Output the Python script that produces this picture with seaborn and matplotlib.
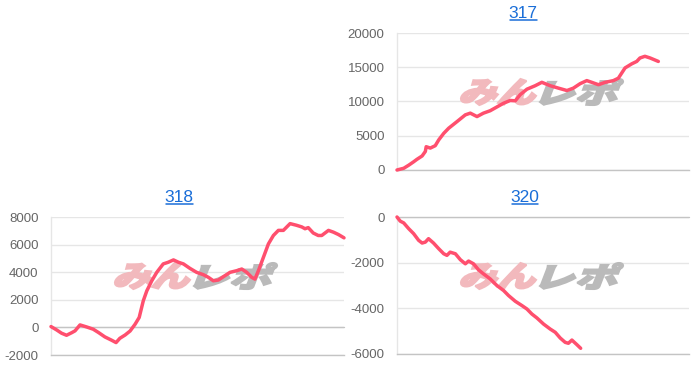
import matplotlib
matplotlib.use("Agg")
import numpy as np
import pandas as pd
import seaborn as sns
import matplotlib.pyplot as plt
from matplotlib.textpath import TextPath
from matplotlib.font_manager import FontProperties
from matplotlib.patches import PathPatch
from matplotlib.transforms import Affine2D, IdentityTransform
from matplotlib.lines import Line2D

# ---------------- data (x = position along the run, % of axis width) ----------------
titles = ["317", "318", "320"]

x317 = [0, 2.3, 4.0, 5.7, 6.8, 8.6, 9.7, 10.0, 11.4, 13.1, 14.3, 16.0, 17.7, 20.5, 23.4,
        25.1, 27.4, 29.6, 31.9, 34.2, 36.5, 38.8, 40.5, 42.2, 44.5, 47.3, 49.6, 52.5, 55.3,
        58.2, 60.4, 62.7, 65.0, 66.7, 69.0, 71.3, 74.1, 75.8, 78.1, 80.4, 82.1, 83.2, 84.9,
        86.7, 89.5]
y317 = [0, 250, 700, 1200, 1550, 2050, 2700, 3400, 3200, 3550, 4400, 5350, 6100, 7050, 8050,
        8300, 7800, 8300, 8650, 9200, 9750, 10150, 10100, 11000, 11800, 12300, 12800, 12300,
        11950, 11600, 11950, 12600, 13050, 12800, 12450, 12800, 13050, 13400, 14900, 15500,
        15850, 16350, 16600, 16350, 15850]

x318 = [0, 1.9, 3.6, 5.3, 7.1, 8.2, 9.9, 12.2, 14.4, 16.2, 18.4, 20.7, 22.2, 23.5, 25.3, 27.0,
        28.7, 30.1, 31.5, 32.7, 34.4, 36.1, 38.3, 40.0, 41.8, 43.5, 45.2, 47.4, 49.7, 52.0,
        53.7, 55.4, 57.1, 58.8, 61.1, 63.4, 65.1, 66.8, 68.5, 69.6, 70.8, 72.5, 74.2, 75.9,
        77.6, 79.3, 81.6, 83.8, 85.6, 86.7, 87.8, 89.5, 91.2, 92.4, 94.7, 96.4, 98.1, 100]
y318 = [60, -180, -420, -570, -380, -250, 180, 30, -130, -370, -690, -930, -1100, -790, -550,
        -260, 230, 720, 1930, 2650, 3380, 3990, 4600, 4720, 4890, 4720, 4600, 4280, 3990, 3820,
        3630, 3380, 3430, 3670, 3990, 4110, 4230, 3990, 3630, 3500, 4110, 5080, 6050, 6660,
        7030, 7030, 7520, 7400, 7280, 7150, 7230, 6840, 6660, 6660, 7030, 6900, 6730, 6490]

x320 = [0, 1.1, 2.3, 4.0, 5.7, 7.4, 8.6, 9.7, 10.8, 12.5, 14.3, 16.0, 17.1, 18.2, 20.0, 21.7,
        23.4, 24.5, 26.2, 27.9, 29.6, 31.9, 34.2, 36.5, 38.2, 40.5, 42.8, 44.5, 46.2, 47.9,
        50.2, 52.5, 54.2, 55.9, 57.6, 58.7, 59.9, 61.6, 62.9]
y320 = [0, -180, -260, -510, -730, -1020, -1140, -1100, -950, -1140, -1390, -1610, -1680,
        -1540, -1610, -1870, -2050, -1930, -2050, -2310, -2490, -2710, -3000, -3220, -3440,
        -3690, -3880, -4030, -4250, -4420, -4690, -4910, -5050, -5300, -5490, -5530, -5390,
        -5590, -5750]

yticks317 = [0, 5000, 10000, 15000, 20000]
yticks318 = [-2000, 0, 2000, 4000, 6000, 8000]
yticks320 = [-6000, -4000, -2000, 0]

watermark_parts = ["みん", "レポ"]

# ---------------- style ----------------
sns.set_theme(style="white")
plt.rcParams["font.family"] = ["Liberation Sans", "DejaVu Sans"]

LINE = "#ff4f6e"
BLUE = "#1a6ed8"
GRID = "#e6e6e6"
AXIS = "#c4c4c4"
TICK = "#666666"
PINK = "#f2b9bd"
GRAY = "#bababa"

W, H = 700, 368
fig = plt.figure(figsize=(W / 100, H / 100), dpi=100)
fig.patch.set_facecolor("white")


def px_axes(l, t, r, b):
    return fig.add_axes([l / W, 1 - b / H, (r - l) / W, (b - t) / H])


def add_watermark(ax):
    bb = ax.get_position()
    left = bb.x0 * W
    top = bb.y1 * H
    fp = FontProperties(family=["Noto Sans CJK JP"], weight="heavy")
    boxes = [(watermark_parts[0], PINK, left + 64, left + 139),
             (watermark_parts[1], GRAY, left + 143, left + 226)]
    for s, col, x0, x1 in boxes:
        p = TextPath((0, 0), s, size=100, prop=fp)
        p = Affine2D().skew_deg(14, 0).transform_path(p)
        ext = p.get_extents()
        sx = (x1 - x0) / ext.width
        sy = 26 / ext.height
        T = Affine2D().translate(-ext.x0, -ext.y0).scale(sx, sy).translate(x0, top - 72)
        patch = PathPatch(T.transform_path(p), transform=IdentityTransform(),
                          fc=col, ec=col, lw=1.5, joinstyle="miter",
                          zorder=1.5, clip_on=False)
        ax.add_artist(patch)


panels = [
    # title, x, y, yticks, axes box (l,t,r,b) in px, title centre (x,y) px, extra zero line
    ("317", x317, y317, yticks317, (397, 33, 689, 170), (523, 14), False),
    ("318", x318, y318, yticks318, (51, 217, 344, 355), (179, 198), True),
    ("320", x320, y320, yticks320, (397, 217, 689, 354), (525, 198), True),
]

title_texts = []
for title, xs, ys, ticks, box, tpos, zero in panels:
    ax = px_axes(*box)
    df = pd.DataFrame({"x": xs, "y": ys})
    sns.lineplot(data=df, x="x", y="y", ax=ax, color=LINE, lw=2.5,
                 estimator=None, sort=False, zorder=3, clip_on=False)
    ax.set_xlim(0, 100)
    ax.set_ylim(ticks[0], ticks[-1])
    ax.set_yticks(ticks)
    ax.set_yticklabels([str(t) for t in ticks])
    ax.set_xticks([])
    ax.set_xlabel("")
    ax.set_ylabel("")
    ax.grid(axis="y", color=GRID, lw=1)
    ax.set_axisbelow(True)
    for s in ("top", "right"):
        ax.spines[s].set_visible(False)
    ax.spines["left"].set_color(GRID)
    ax.spines["left"].set_linewidth(1)
    ax.spines["bottom"].set_color(AXIS)
    ax.spines["bottom"].set_linewidth(1)
    if zero:
        ax.axhline(0, color=AXIS, lw=1, zorder=1, clip_on=False)
    ax.tick_params(axis="y", length=0, pad=9, labelsize=9.5, labelcolor=TICK)
    add_watermark(ax)
    t = fig.text(tpos[0] / W, 1 - tpos[1] / H, title, ha="center", va="center",
                 color=BLUE, fontsize=12.5)
    title_texts.append(t)

fig.canvas.draw()
r = fig.canvas.get_renderer()
for t in title_texts:
    bb = t.get_window_extent(r)
    y = bb.y0 + 1.5
    fig.add_artist(Line2D([bb.x0 + 1, bb.x1 - 1], [y, y], transform=IdentityTransform(),
                          color=BLUE, lw=1.1))

fig.savefig("out.png", dpi=100, facecolor="white")
